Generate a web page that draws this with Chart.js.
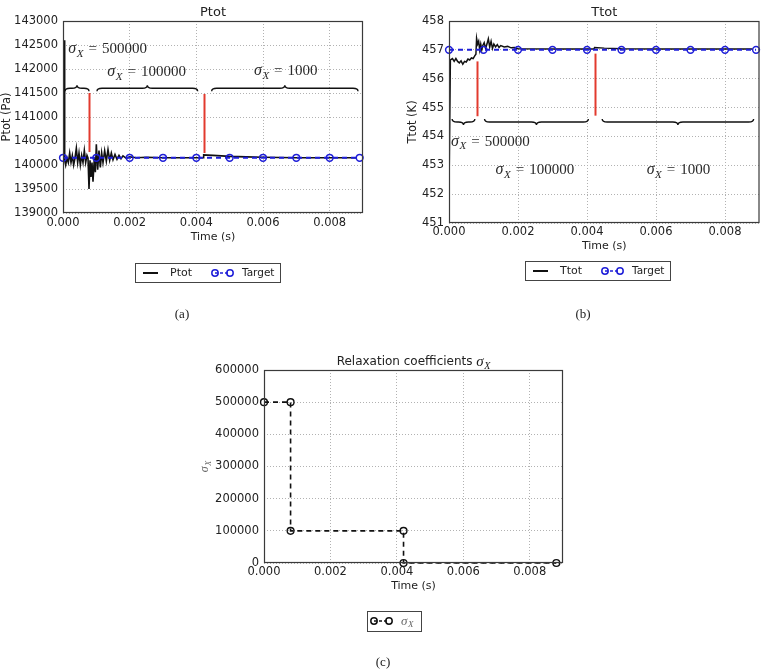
<!DOCTYPE html>
<html><head><meta charset="utf-8">
<script src="https://cdn.jsdelivr.net/npm/chart.js@4"></script>
<style>
html,body{margin:0;padding:0;background:#fff;}
#wrap{position:relative;width:765px;height:670px;overflow:hidden;}
canvas{position:absolute;left:0;top:0;}
</style></head><body>
<div id="wrap">
<canvas id="ca" width="765" height="670"></canvas>
<canvas id="cb" width="765" height="670"></canvas>
<canvas id="cc" width="765" height="670"></canvas>
</div>
<script>
// ---------- tick labels ----------
const timeTicks = [0, 0.002, 0.004, 0.006, 0.008];
const ptotTicks = [139000, 139500, 140000, 140500, 141000, 141500, 142000, 142500, 143000];
const ttotTicks = [451, 452, 453, 454, 455, 456, 457, 458];
const sigmaTicks = [0, 100000, 200000, 300000, 400000, 500000, 600000];

// ---------- Ptot ----------
const ptotTime = [0.00004, 0.00005, 0.00008, 0.00012, 0.00016, 0.0002, 0.00024, 0.00028, 0.00032, 0.00036, 0.0004, 0.00044, 0.00048, 0.00052, 0.00056, 0.0006, 0.00064, 0.00068, 0.00072, 0.00075, 0.00078, 0.00081, 0.00084, 0.00087, 0.0009, 0.00094, 0.00097, 0.001, 0.00104, 0.00108, 0.00112, 0.00116, 0.0012, 0.00125, 0.0013, 0.00135, 0.0014, 0.00145, 0.0015, 0.00156, 0.00162, 0.00168, 0.00174, 0.0018, 0.0019, 0.002, 0.0022, 0.0025, 0.003, 0.0035, 0.004, 0.0042, 0.00422, 0.0045, 0.005, 0.0055, 0.006, 0.007, 0.008, 0.0088];
const ptotValue = [142600, 140100, 140000, 140150, 140050, 140250, 140050, 140200, 140000, 140150, 140350, 140050, 140250, 140000, 140200, 140050, 140300, 140050, 140200, 140150, 139500, 140100, 139750, 140050, 139650, 140150, 139850, 140430, 139900, 140300, 139950, 140250, 140050, 140300, 140080, 140320, 140100, 140250, 140110, 140220, 140120, 140200, 140130, 140190, 140140, 140170, 140150, 140160, 140150, 140150, 140150, 140150, 140210, 140200, 140180, 140170, 140160, 140150, 140150, 140150];
const targetTime = [0, 0.001, 0.002, 0.003, 0.004, 0.005, 0.006, 0.007, 0.008, 0.0089];
const ptotTarget = [140150, 140150, 140150, 140150, 140150, 140150, 140150, 140150, 140150, 140150];

// ---------- Ttot ----------
const ttotTime = [0, 0.00004, 0.0001, 0.00015, 0.0002, 0.00025, 0.0003, 0.00035, 0.0004, 0.00045, 0.0005, 0.00055, 0.0006, 0.00065, 0.0007, 0.00075, 0.00078, 0.0008, 0.00083, 0.00086, 0.00089, 0.00092, 0.00095, 0.00098, 0.00102, 0.00106, 0.0011, 0.00114, 0.00118, 0.00122, 0.00126, 0.0013, 0.00135, 0.0014, 0.00145, 0.0015, 0.0016, 0.0017, 0.0018, 0.0019, 0.002, 0.003, 0.0042, 0.00422, 0.0045, 0.005, 0.006, 0.0088];
const ttotValue = [452.0, 456.65, 456.7, 456.6, 456.7, 456.6, 456.55, 456.62, 456.5, 456.6, 456.58, 456.68, 456.65, 456.72, 456.7, 456.8, 456.85, 457.4, 457.2, 457.3, 457.0, 457.2, 457.0, 457.15, 457.25, 457.05, 457.2, 457.38, 457.1, 457.3, 457.05, 457.2, 457.1, 457.18, 457.08, 457.15, 457.1, 457.12, 457.07, 457.08, 457.04, 457.03, 457.03, 457.08, 457.06, 457.04, 457.03, 457.03];
const ttotTarget = [457.0, 457.0, 457.0, 457.0, 457.0, 457.0, 457.0, 457.0, 457.0, 457.0];

// ---------- relaxation coefficients ----------
const sigmaTime = [0, 0.0008, 0.0008, 0.0042, 0.0042, 0.0088];
const sigmaValue = [500000, 500000, 100000, 100000, 0, 0];

// ---------- annotations (data units) ----------
const sigmaLabels = ['500000', '100000', '1000'];
const ptotBraceStart = [0.00006, 0.00102, 0.00446];
const ptotBraceEnd = [0.00078, 0.00404, 0.00885];
const ptotBraceLevel = 141600;
const ptotLabelX = [0.00016, 0.00133, 0.00573];
const ptotLabelY = [142420, 141940, 141960];
const ptotSwitchX = [0.00078, 0.00423];
const ptotSwitchLow = [140270, 140250];
const ptotSwitchHigh = [141500, 141480];

const ttotBraceStart = [0.00009, 0.00103, 0.00444];
const ttotBraceEnd = [0.00075, 0.00404, 0.00883];
const ttotBraceLevel = 454.5;
const ttotLabelX = [0.00006, 0.00135, 0.00573];
const ttotLabelY = [453.84, 452.84, 452.84];
const ttotSwitchX = [0.0008, 0.00424];
const ttotSwitchLow = [454.7, 454.72];
const ttotSwitchHigh = [456.6, 456.87];

// ---------- styling ----------
Chart.defaults.font.family = '"DejaVu Sans", sans-serif';
Chart.defaults.color = '#222';
Chart.defaults.animation = false;
const BLUE = '#1e1ed8';
const RED = '#e23a2e';
const SERIF = '"Liberation Serif", "DejaVu Serif", serif';

function pts(xs, ys) { return xs.map((x, i) => ({x: x, y: ys[i]})); }

function xScale(pad, h) {
  return {
    type: 'linear', min: 0, max: 0.009,
    afterBuildTicks: s => { s.ticks = timeTicks.map(v => ({value: v})); },
    afterFit: s => { s.height = h; },
    grid: {color: '#b2b2b2', lineWidth: 1, drawTicks: false},
    border: {display: false, dash: [1, 2]},
    ticks: {padding: pad, maxRotation: 0, autoSkip: false, font: {size: 11.5}, color: '#222',
            callback: v => Number(v).toFixed(3)},
    title: {display: true, text: 'Time (s)', font: {size: 11}, color: '#222', padding: 0}
  };
}
function yScale(ticks, w, pad, title) {
  return {
    type: 'linear', min: ticks[0], max: ticks[ticks.length - 1],
    afterBuildTicks: s => { s.ticks = ticks.map(v => ({value: v})); },
    afterFit: s => { s.width = w; },
    grid: {color: '#b2b2b2', lineWidth: 1, drawTicks: false},
    border: {display: false, dash: [1, 2]},
    ticks: {padding: pad, autoSkip: false, font: {size: 11.5}, color: '#222', callback: v => String(v)},
    title: title ? {display: true, text: title, font: {size: 11.5}, color: '#222', padding: 0} : {display: false}
  };
}

function frame(chart) {
  const {ctx, chartArea: a} = chart;
  ctx.save();
  ctx.strokeStyle = '#3a3a3a'; ctx.lineWidth = 1.2;
  ctx.strokeRect(a.left + 0.5, a.top + 0.5, a.right - a.left - 1, a.bottom - a.top - 1);
  ctx.restore();
}
function sansText(ctx, text, x, y, size, align) {
  ctx.save();
  ctx.font = size + 'px "DejaVu Sans"'; ctx.fillStyle = '#222';
  ctx.textAlign = align || 'center'; ctx.textBaseline = 'middle';
  ctx.fillText(text, x, y);
  ctx.restore();
}
// draws sigma_X [= rest], x = left, y = visual middle; returns width
function sigmaText(ctx, x, y, size, rest, color, measureOnly) {
  ctx.save();
  ctx.fillStyle = color || '#2a2a2a';
  ctx.textBaseline = 'alphabetic'; ctx.textAlign = 'left';
  const base = y + size * 0.3;
  let w = 0;
  ctx.font = 'italic ' + (size + 1) + 'px ' + SERIF;
  if (!measureOnly) ctx.fillText('σ', x, base);
  w += ctx.measureText('σ').width + 0.5;
  ctx.font = 'italic ' + Math.round(size * 0.72) + 'px ' + SERIF;
  if (!measureOnly) ctx.fillText('X', x + w, base + size * 0.22);
  w += ctx.measureText('X').width;
  if (rest) {
    ctx.font = size + 'px ' + SERIF;
    w += 5;
    if (!measureOnly) ctx.fillText('=', x + w, base);
    w += ctx.measureText('=').width + 5;
    if (!measureOnly) ctx.fillText(rest, x + w, base);
    w += ctx.measureText(rest).width;
  }
  ctx.restore();
  return w;
}
function brace(ctx, x1, x2, y, dir) {
  const h = 3, r = Math.min(5, (x2 - x1) / 4), xm = (x1 + x2) / 2;
  ctx.beginPath();
  ctx.moveTo(x1, y - dir * h);
  ctx.quadraticCurveTo(x1, y, x1 + r, y);
  ctx.lineTo(xm - r, y);
  ctx.quadraticCurveTo(xm, y, xm, y + dir * h);
  ctx.quadraticCurveTo(xm, y, xm + r, y);
  ctx.lineTo(x2 - r, y);
  ctx.quadraticCurveTo(x2, y, x2, y - dir * h);
  ctx.stroke();
}
function annotate(chart, bs, be, level, dir, lx, ly, sx, slo, shi) {
  const {ctx, scales: {x, y}} = chart;
  ctx.save();
  ctx.strokeStyle = '#111'; ctx.lineWidth = 1.4;
  for (let i = 0; i < bs.length; i++) {
    brace(ctx, x.getPixelForValue(bs[i]), x.getPixelForValue(be[i]), y.getPixelForValue(level), dir);
  }
  ctx.strokeStyle = RED; ctx.lineWidth = 2;
  for (let i = 0; i < sx.length; i++) {
    const px = Math.round(x.getPixelForValue(sx[i])) + 0.5;
    ctx.beginPath();
    ctx.moveTo(px, y.getPixelForValue(shi[i]));
    ctx.lineTo(px, y.getPixelForValue(slo[i]));
    ctx.stroke();
  }
  ctx.restore();
  for (let i = 0; i < lx.length; i++) {
    sigmaText(ctx, x.getPixelForValue(lx[i]), y.getPixelForValue(ly[i]), 15, sigmaLabels[i]);
  }
}
function circle(ctx, x, y, color) {
  ctx.beginPath(); ctx.arc(x, y, 3.2, 0, Math.PI * 2);
  ctx.strokeStyle = color; ctx.lineWidth = 1.5; ctx.stroke();
}
function legendBox(ctx, x, y, w, h) {
  ctx.save();
  ctx.fillStyle = '#fff'; ctx.fillRect(x, y, w, h);
  ctx.strokeStyle = '#444'; ctx.lineWidth = 1;
  ctx.strokeRect(x + 0.5, y + 0.5, w, h);
  ctx.restore();
}
function legendTwo(ctx, bx, by, name) {
  legendBox(ctx, bx, by, 145, 19);
  const cy = by + 10;
  ctx.save();
  ctx.strokeStyle = '#111'; ctx.lineWidth = 2;
  ctx.beginPath(); ctx.moveTo(bx + 8, cy); ctx.lineTo(bx + 23, cy); ctx.stroke();
  ctx.strokeStyle = BLUE; ctx.lineWidth = 1.6; ctx.setLineDash([3, 2]);
  ctx.beginPath(); ctx.moveTo(bx + 80, cy); ctx.lineTo(bx + 95, cy); ctx.stroke();
  ctx.setLineDash([]);
  circle(ctx, bx + 80, cy, BLUE); circle(ctx, bx + 95, cy, BLUE);
  ctx.restore();
  sansText(ctx, name, bx + 35, cy, 11, 'left');
  sansText(ctx, 'Target', bx + 107, cy, 10.5, 'left');
}
function caption(ctx, text, x, y) {
  ctx.save();
  ctx.font = '13px ' + SERIF; ctx.fillStyle = '#222';
  ctx.textAlign = 'center'; ctx.textBaseline = 'middle';
  ctx.fillText(text, x, y);
  ctx.restore();
}

const lineDefaults = {tension: 0, fill: false};

// ---------- chart (a) ----------
new Chart(document.getElementById('ca'), {
  type: 'line',
  data: {datasets: [
    Object.assign({label: 'Ptot', data: pts(ptotTime, ptotValue), borderColor: '#111', borderWidth: 1.6,
      pointRadius: 0, order: 1}, lineDefaults),
    Object.assign({label: 'Target', data: pts(targetTime, ptotTarget), borderColor: BLUE, borderWidth: 2,
      borderDash: [5, 4], pointRadius: 3.4, pointBorderWidth: 1.5, pointBorderColor: BLUE,
      pointBackgroundColor: 'rgba(0,0,0,0)', order: 0, clip: false}, lineDefaults)
  ]},
  options: {
    responsive: false, devicePixelRatio: 1, parsing: true,
    layout: {padding: {left: 0, top: 21, right: 402, bottom: 426}},
    plugins: {legend: {display: false}, tooltip: {enabled: false}},
    scales: {x: xScale(3, 31), y: yScale(ptotTicks, 63, 5, 'Ptot (Pa)')}
  },
  plugins: [{id: 'decoA', afterDatasetsDraw(chart) {
    const ctx = chart.ctx;
    frame(chart);
    annotate(chart, ptotBraceStart, ptotBraceEnd, ptotBraceLevel, -1, ptotLabelX, ptotLabelY,
             ptotSwitchX, ptotSwitchLow, ptotSwitchHigh);
    sansText(ctx, 'Ptot', (chart.chartArea.left + chart.chartArea.right) / 2, 13, 13);
    legendTwo(ctx, 135, 263, 'Ptot');
    caption(ctx, '(a)', 182, 315);
  }}]
});

// ---------- chart (b) ----------
new Chart(document.getElementById('cb'), {
  type: 'line',
  data: {datasets: [
    Object.assign({label: 'Ttot', data: pts(ttotTime, ttotValue), borderColor: '#111', borderWidth: 1.5,
      pointRadius: 0, order: 1}, lineDefaults),
    Object.assign({label: 'Target', data: pts(targetTime, ttotTarget), borderColor: BLUE, borderWidth: 2,
      borderDash: [5, 4], pointRadius: 3.4, pointBorderWidth: 1.5, pointBorderColor: BLUE,
      pointBackgroundColor: 'rgba(0,0,0,0)', order: 0, clip: false}, lineDefaults)
  ]},
  options: {
    responsive: false, devicePixelRatio: 1,
    layout: {padding: {left: 406, top: 21, right: 2, bottom: 417}},
    plugins: {legend: {display: false}, tooltip: {enabled: false}},
    scales: {x: xScale(2, 30), y: yScale(ttotTicks, 43, 5, 'Ttot (K)')}
  },
  plugins: [{id: 'decoB', afterDatasetsDraw(chart) {
    const ctx = chart.ctx;
    frame(chart);
    annotate(chart, ttotBraceStart, ttotBraceEnd, ttotBraceLevel, 1, ttotLabelX, ttotLabelY,
             ttotSwitchX, ttotSwitchLow, ttotSwitchHigh);
    sansText(ctx, 'Ttot', (chart.chartArea.left + chart.chartArea.right) / 2, 13, 13);
    legendTwo(ctx, 525, 261, 'Ttot');
    caption(ctx, '(b)', 583, 315);
  }}]
});

// ---------- chart (c) ----------
new Chart(document.getElementById('cc'), {
  type: 'line',
  data: {datasets: [
    Object.assign({label: 'σX', data: pts(sigmaTime, sigmaValue), borderColor: '#111', borderWidth: 1.6,
      borderDash: [5, 4], pointRadius: 3.4, pointBorderWidth: 1.4, pointBorderColor: '#111',
      pointBackgroundColor: 'rgba(0,0,0,0)', clip: false}, lineDefaults)
  ]},
  options: {
    responsive: false, devicePixelRatio: 1,
    layout: {padding: {left: 190, top: 370, right: 202, bottom: 77}},
    plugins: {legend: {display: false}, tooltip: {enabled: false}},
    scales: {x: xScale(2, 30), y: yScale(sigmaTicks, 74, 5, null)}
  },
  plugins: [{id: 'decoC', afterDatasetsDraw(chart) {
    const ctx = chart.ctx, a = chart.chartArea;
    frame(chart);
    // title
    ctx.save();
    ctx.font = '12px "DejaVu Sans"';
    const t1 = 'Relaxation coefficients ';
    const w1 = ctx.measureText(t1).width;
    ctx.restore();
    const w2 = sigmaText(ctx, 0, 0, 14, null, null, true);
    const x0 = (a.left + a.right) / 2 - (w1 + w2) / 2;
    sansText(ctx, t1, x0, 362, 12, 'left');
    sigmaText(ctx, x0 + w1, 362, 14, null, '#222');
    // y axis title (rotated)
    ctx.save();
    ctx.translate(205, (a.top + a.bottom) / 2);
    ctx.rotate(-Math.PI / 2);
    const wy = sigmaText(ctx, 0, 0, 11, null, null, true);
    sigmaText(ctx, -wy / 2, 0, 11, null, '#666');
    ctx.restore();
    // legend
    legendBox(ctx, 367, 611, 54, 20);
    const cy = 621;
    ctx.save();
    ctx.strokeStyle = '#111'; ctx.lineWidth = 1.5; ctx.setLineDash([3, 2]);
    ctx.beginPath(); ctx.moveTo(374, cy); ctx.lineTo(389, cy); ctx.stroke();
    ctx.setLineDash([]);
    circle(ctx, 374, cy, '#111'); circle(ctx, 389, cy, '#111');
    ctx.restore();
    sigmaText(ctx, 401, cy, 12, null, '#666');
    caption(ctx, '(c)', 383, 663);
  }}]
});
</script>
</body></html>
